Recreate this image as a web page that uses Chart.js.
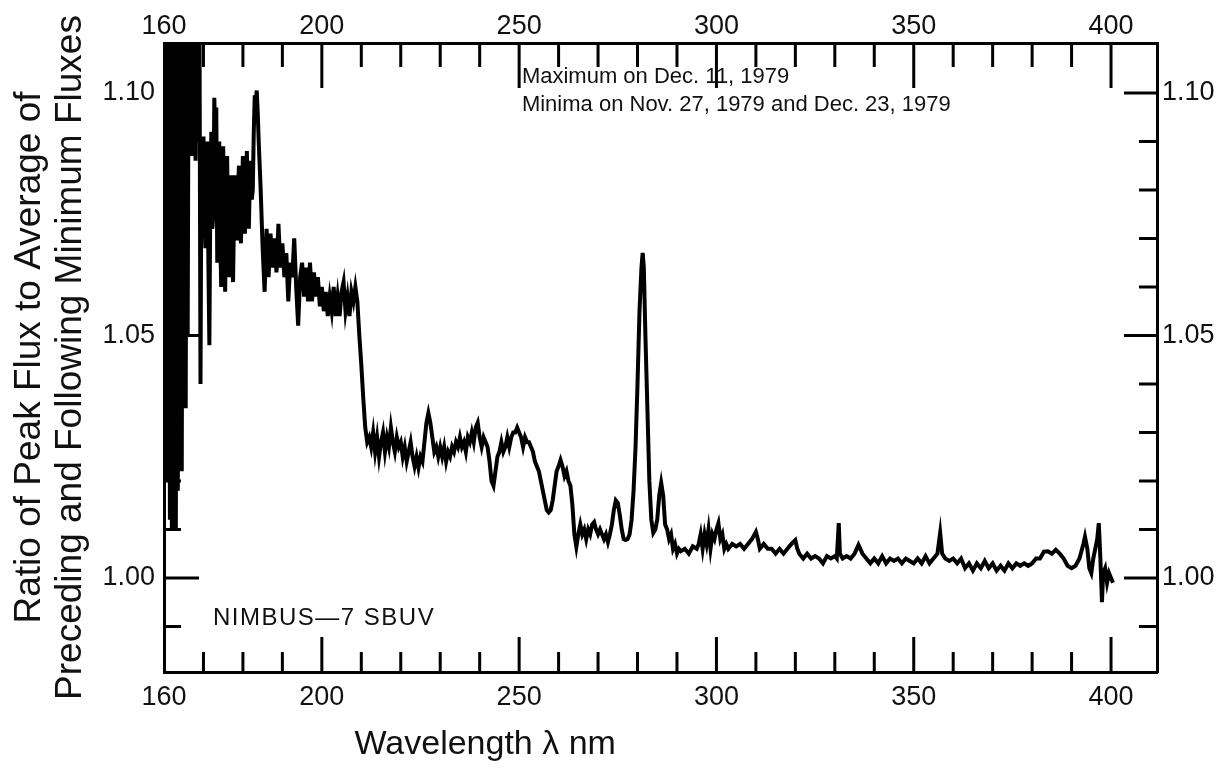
<!DOCTYPE html>
<html><head><meta charset="utf-8">
<script src="https://cdn.jsdelivr.net/npm/chart.js@4"></script>
<style>html,body{margin:0;padding:0;background:#fff}#wrap{width:1222px;height:772px}</style>
</head><body><div id="wrap"><canvas id="c" width="1222" height="772"></canvas></div>
<script>
// ---- data ----
const wavelengths = [
160.00,160.25,160.50,160.75,161.00,161.25,161.50,161.75,162.00,162.25,162.50,162.75,163.00,163.25,163.50,163.75,
164.00,164.25,164.50,164.75,165.00,165.25,165.50,165.75,166.00,166.25,166.50,166.75,167.00,167.25,167.50,167.75,
168.00,168.25,168.50,168.75,
169.00,169.25,169.50,169.75,170.00,170.25,170.50,170.75,171.00,171.25,171.50,171.75,172.00,172.25,172.50,172.75,
173.00,173.25,173.50,173.75,174.00,174.25,174.50,174.75,175.00,175.25,175.50,175.75,176.00,176.25,176.50,176.75,
177.00,177.25,177.50,177.75,178.00,178.25,178.50,178.75,179.00,179.25,179.50,179.75,180.00,180.25,180.50,180.75,
181.00,181.25,181.50,181.75,182.00,182.25,182.50,182.75,183.00,183.25,183.50,183.75,184.00,
184.50,185.00,185.50,186.00,186.50,187.00,187.50,188.00,188.50,
189.00,189.50,190.00,190.50,191.00,191.50,192.00,192.50,193.00,193.50,194.00,194.50,195.00,195.50,196.00,196.50,
197.00,197.50,198.00,198.50,199.00,199.50,200.00,200.50,201.00,201.50,202.00,202.50,203.00,203.50,204.00,204.50,
205.00,205.50,206.00,206.50,207.00,207.50,208.00,208.50,209.00,209.50,210.00,210.50,211.00,211.50,
212,212.5,213,213.5,214,214.5,215,215.5,216,216.5,217,217.5,218,218.5,219,219.5,220,220.5,221,221.5,
222,222.5,223,223.5,224,224.5,225,225.5,226,226.5,227,227.5,228,228.5,229,229.5,230,230.5,231,231.5,
232,232.5,233,233.5,234,234.5,235,235.5,236,236.5,237,237.5,238,238.5,239,239.5,240,240.5,241,241.5,
242,242.5,243,243.5,244,244.5,245,245.5,246,246.5,247,247.5,248,248.5,249,249.5,250,250.5,251,251.5,
252,252.5,253,253.5,254,254.5,255,255.5,256,256.5,257,257.5,258,258.5,259,259.5,260,260.5,261,261.5,
262,262.5,263,263.5,264,264.5,265,265.5,266,266.5,267,267.5,268,268.5,269,269.5,270,270.5,271,271.5,
272,272.5,273,273.5,274,274.5,275,275.5,276,276.5,277,277.5,278,278.5,279,279.5,280,280.5,281,281.3,
281.6,282,282.5,283,283.5,284,284.5,285,285.5,286,286.5,287,287.5,288,288.5,289,289.5,290,290.5,291,
292,293,294,295,295.5,296,296.5,297,297.5,298,298.5,299,299.5,300,300.5,301,301.5,302,302.5,303,
304,305,306,307,308,309,310,310.5,311,312,313,314,315,316,317,318,319,320,320.5,321,
322,323,324,325,326,327,328,329,330,330.5,331,331.3,332,333,334,335,336,337,338,339,
340,341,342,343,344,345,346,347,348,349,350,351,352,353,354,355,356,356.7,357.2,358,
359,360,361,362,363,364,365,366,367,368,369,370,371,372,373,374,375,376,377,378,
379,380,381,382,383,384,385,386,387,388,389,390,391,392,393,393.4,394,394.5,395,395.5,
396,396.5,396.9,397.3,397.7,398,398.5,399,399.5,400,400.5
];
const ratios = [
1.030,1.115,1.020,1.115,1.040,1.115,1.012,1.115,1.010,1.115,1.025,1.115,1.010,1.115,1.018,1.115,
1.030,1.115,1.022,1.115,1.040,1.115,1.035,1.115,1.050,1.115,1.088,1.115,1.087,1.115,1.088,1.115,
1.086,1.115,1.090,1.115,
1.112,1.040,1.090,1.080,1.091,1.075,1.068,1.088,1.090,1.065,1.048,1.080,1.092,1.072,1.075,1.099,
1.090,1.097,1.065,1.082,1.090,1.070,1.060,1.080,1.089,1.068,1.059,1.078,1.087,1.070,1.062,1.076,
1.083,1.066,1.061,1.075,1.083,1.074,1.070,1.080,1.085,1.073,1.069,1.079,1.087,1.075,1.071,1.081,
1.088,1.076,1.072,1.082,1.086,1.078,1.080,1.092,1.0995,1.098,1.1005,1.096,1.090,
1.080,1.068,1.059,1.072,1.062,1.071,1.064,1.070,1.063,
1.073,1.064,1.069,1.062,1.067,1.057,1.065,1.062,1.070,1.060,1.052,1.062,1.065,1.058,1.064,1.057,
1.065,1.057,1.063,1.058,1.062,1.056,1.060,1.055,1.059,1.054,1.058,1.055,1.060,1.054,1.058,1.054,
1.059,1.061,1.055,1.058,1.054,1.059,1.057,1.060,1.057,1.050,1.044,1.037,1.031,1.028,
1.029,1.027,1.030,1.026,1.029,1.025,1.028,1.030,1.026,1.029,1.027,1.031,1.028,1.026,1.029,1.027,1.028,1.025,1.027,1.024,
1.026,1.028,1.025,1.023,1.025,1.0227,1.025,1.024,1.028,1.032,1.034,1.032,1.029,1.026,1.027,1.025,1.027,1.025,1.027,1.024,
1.026,1.025,1.027,1.026,1.028,1.027,1.029,1.027,1.028,1.026,1.029,1.028,1.030,1.028,1.031,1.032,1.029,1.027,1.029,1.028,
1.027,1.024,1.020,1.019,1.022,1.025,1.026,1.028,1.026,1.027,1.029,1.027,1.029,1.030,1.030,1.031,1.030,1.029,1.027,1.029,
1.028,1.028,1.027,1.026,1.024,1.023,1.022,1.020,1.018,1.016,1.014,1.0135,1.014,1.016,1.019,1.022,1.023,1.0243,1.023,1.021,
1.022,1.020,1.019,1.015,1.009,1.0064,1.009,1.011,1.009,1.010,1.008,1.010,1.009,1.011,1.0115,1.010,1.009,1.010,1.009,1.008,
1.009,1.0074,1.009,1.011,1.014,1.016,1.0155,1.013,1.010,1.008,1.0078,1.008,1.009,1.012,1.018,1.027,1.040,1.055,1.064,1.067,
1.064,1.050,1.035,1.020,1.012,1.0093,1.010,1.012,1.017,1.0196,1.017,1.011,1.010,1.008,1.009,1.006,1.007,1.005,1.006,1.0055,
1.006,1.005,1.0065,1.006,1.007,1.009,1.006,1.009,1.007,1.010,1.006,1.009,1.008,1.010,1.0113,1.008,1.009,1.006,1.007,1.006,
1.007,1.0065,1.007,1.006,1.007,1.008,1.0095,1.008,1.006,1.007,1.006,1.006,1.005,1.006,1.005,1.006,1.007,1.0078,1.006,1.005,
1.004,1.005,1.004,1.0045,1.004,1.003,1.0045,1.004,1.0045,1.004,1.0113,1.005,1.004,1.0045,1.004,1.005,1.0068,1.005,1.004,1.003,
1.004,1.003,1.0045,1.003,1.004,1.0035,1.004,1.003,1.004,1.0035,1.003,1.004,1.003,1.0045,1.003,1.004,1.005,1.0093,1.005,1.004,
1.0035,1.004,1.003,1.004,1.002,1.003,1.0015,1.003,1.002,1.0035,1.002,1.003,1.0015,1.0025,1.0015,1.003,1.002,1.003,1.0025,1.003,
1.0025,1.003,1.004,1.004,1.0054,1.0055,1.005,1.0058,1.005,1.004,1.0025,1.002,1.0025,1.004,1.007,1.0085,1.006,1.002,1.001,1.004,
1.006,1.008,1.0113,1.004,0.995,1.001,1.002,0.999,1.001,1.000,0.999
];
const xTickValues = [160,170,180,190,200,210,220,230,240,250,260,270,280,290,300,310,320,330,340,350,360,370,380,390,400];
const xLabelValues = [160,200,250,300,350,400];
const yTickValues = [0.99,1.00,1.01,1.02,1.03,1.04,1.05,1.06,1.07,1.08,1.09,1.10];
const yLabelValues = [1.00,1.05,1.10];
const yTitle = ["Ratio of Peak Flux to Average of", "Preceding and Following Minimum Fluxes"];
const xTitle = "Wavelength \u03bb nm";
const noteLines = ["Maximum on Dec. 11, 1979", "Minima on Nov. 27, 1979 and Dec. 23, 1979"];
const instrumentLabel = "NIMBUS\u20147 SBUV";

// ---- chart ----
const FONT = "'Liberation Sans', Arial, Helvetica, sans-serif";
const INK = '#111';
const X_MIN = 160, X_MAX = 411.65, Y_MIN = 0.9806, Y_MAX = 1.1103;
const isYLabel = v => yLabelValues.some(l => Math.abs(l - v) < 1e-9);

const xTickCfg = (pad) => ({
  autoSkip: false, maxRotation: 0, padding: pad, color: INK,
  font: { family: FONT, size: 27 },
  callback: v => xLabelValues.includes(v) ? String(v) : ''
});
const yTickCfg = (pad) => ({
  autoSkip: false, padding: pad, color: INK,
  font: { family: FONT, size: 27 },
  callback: v => isYLabel(v) ? v.toFixed(2) : ''
});
const setX = s => { s.ticks = xTickValues.map(v => ({ value: v })); };
const setY = s => { s.ticks = yTickValues.map(v => ({ value: v })); };
const frame = { display: true, color: '#000', width: 3 };
const noGrid = { display: false, drawTicks: false };

const innerMarks = {
  id: 'innerMarks',
  afterDatasetsDraw(chart) {
    const { ctx, chartArea: a, scales: { x, y } } = chart;
    ctx.save();
    ctx.strokeStyle = '#000';
    ctx.lineWidth = 3;
    ctx.beginPath();
    xTickValues.forEach(v => {
      if (v <= X_MIN) return;
      const px = x.getPixelForValue(v);
      const major = xLabelValues.includes(v);
      ctx.moveTo(px, a.top); ctx.lineTo(px, a.top + (major ? 45 : 24));
      ctx.moveTo(px, a.bottom); ctx.lineTo(px, a.bottom - (major ? 35 : 20));
    });
    yTickValues.forEach(v => {
      const py = y.getPixelForValue(v);
      const major = isYLabel(v);
      ctx.moveTo(a.left, py); ctx.lineTo(a.left + (major ? 35 : 17), py);
      ctx.moveTo(a.right, py); ctx.lineTo(a.right - (major ? 33 : 18), py);
    });
    ctx.stroke();

    ctx.fillStyle = INK;
    ctx.textBaseline = 'middle';
    ctx.textAlign = 'left';
    ctx.font = '22px ' + FONT;
    const nx = x.getPixelForValue(250.7), ny = y.getPixelForValue(1.1033);
    noteLines.forEach((t, i) => ctx.fillText(t, nx, ny + i * 28));
    ctx.font = '24px ' + FONT;
    if ('letterSpacing' in ctx) ctx.letterSpacing = '1.5px';
    ctx.fillText(instrumentLabel, x.getPixelForValue(172.4), y.getPixelForValue(0.99175));
    if ('letterSpacing' in ctx) ctx.letterSpacing = '0px';
    ctx.textAlign = 'center';
    ctx.font = '34px ' + FONT;
    ctx.fillText(xTitle, x.getPixelForValue(241.4), a.bottom + 73);
    ctx.restore();
  }
};

new Chart(document.getElementById('c'), {
  type: 'line',
  data: {
    datasets: [{
      data: wavelengths.map((w, i) => ({ x: w, y: ratios[i] })),
      borderColor: '#000',
      borderWidth: 4,
      pointRadius: 0,
      tension: 0,
      fill: false
    }]
  },
  options: {
    responsive: false,
    animation: false,
    events: [],
    layout: { padding: 0 },
    plugins: { legend: { display: false }, tooltip: { enabled: false } },
    scales: {
      x: {
        type: 'linear', position: 'bottom', min: X_MIN, max: X_MAX,
        grid: noGrid, border: frame, ticks: xTickCfg(9),
        afterBuildTicks: setX, afterFit: s => { s.height = 100; }
      },
      x2: {
        type: 'linear', position: 'top', min: X_MIN, max: X_MAX,
        grid: noGrid, border: frame, ticks: xTickCfg(0),
        afterBuildTicks: setX, afterFit: s => { s.height = 43; }
      },
      y: {
        type: 'linear', position: 'left', min: Y_MIN, max: Y_MAX,
        grid: noGrid, border: frame, ticks: yTickCfg(9),
        afterBuildTicks: setY, afterFit: s => { s.width = 164; },
        title: {
          display: true, text: yTitle, color: INK,
          font: { family: FONT, size: 37, lineHeight: 1.12 },
          padding: { top: 9, bottom: 0 }
        }
      },
      y2: {
        type: 'linear', position: 'right', min: Y_MIN, max: Y_MAX,
        grid: noGrid, border: frame, ticks: yTickCfg(5),
        afterBuildTicks: setY, afterFit: s => { s.width = 65; }
      }
    }
  },
  plugins: [innerMarks]
});
</script>
</body></html>
